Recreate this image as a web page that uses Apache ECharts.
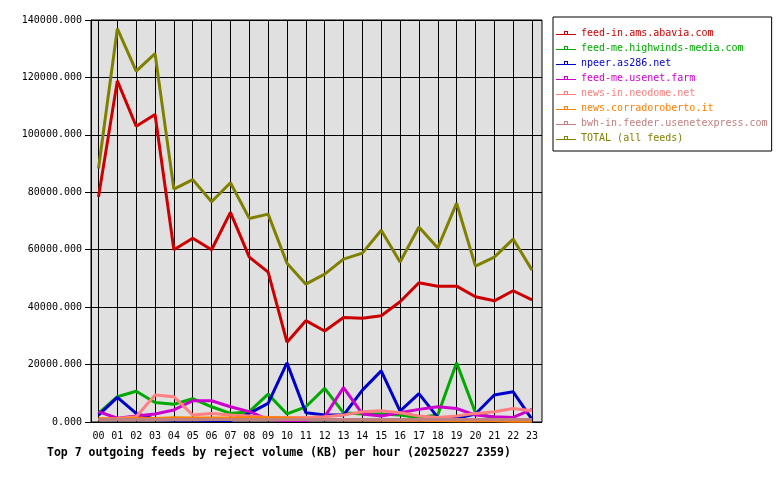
<!DOCTYPE html>
<html>
<head>
<meta charset="utf-8">
<script src="https://cdn.jsdelivr.net/npm/echarts@6/dist/echarts.min.js"></script>
<style>html,body{margin:0;padding:0;background:#fff}#c{width:780px;height:480px}</style>
</head>
<body>
<div id="c"></div>
<script>
const hours = ['00','01','02','03','04','05','06','07','08','09','10','11','12','13','14','15','16','17','18','19','20','21','22','23'];
const seriesNames = ['feed-in.ams.abavia.com','feed-me.highwinds-media.com','npeer.as286.net','feed-me.usenet.farm','news-in.neodome.net','news.corradoroberto.it','bwh-in.feeder.usenetexpress.com','TOTAL (all feeds)'];
const seriesColors = ['#cc0000','#00aa00','#0000cc','#cc00cc','#ff8080','#ff8000','#c08080','#808000'];
const abavia = [78400,118800,103000,107100,60000,64000,60000,73000,57400,52200,27800,35300,31700,36400,36100,37000,41900,48500,47300,47300,43600,42200,45700,42500];
const highwinds = [3000,8800,10700,6800,6200,8100,5300,3000,3600,9700,2800,5300,11700,3200,2800,2800,2400,1600,2400,20600,3200,1300,900,700];
const as286 = [2400,8600,3000,900,700,700,500,500,3000,6500,20600,3200,2400,2400,11100,17800,3800,9900,1600,1300,2800,9400,10500,900];
const usenetfarm = [3600,1300,2100,2800,4200,7400,7400,5300,3600,900,500,500,1800,12000,2800,2100,3200,4400,5300,4700,2400,1800,1600,4400];
const neodome = [900,1200,1800,9400,8800,2400,3000,2400,2100,1600,1600,1600,1800,2400,3600,3900,3200,2100,1600,2100,3000,3600,4700,3900];
const corradoroberto = [1200,1000,1300,1200,1500,1400,1400,1400,1500,1500,1400,1000,1000,800,800,700,600,600,500,400,400,400,300,300];
const usenetexpress = [900,900,900,900,900,900,900,900,900,900,900,900,900,900,900,900,900,900,900,900,900,900,900,900];
const total = [88300,137000,122200,128300,81100,84400,76700,83300,70900,72400,55300,48000,51500,56700,58800,66800,55700,67900,60600,76200,54300,57400,63700,52900];
const yTicks = {min:0, max:140000, interval:20000};
const titleText = 'Top 7 outgoing feeds by reject volume (KB) per hour (20250227 2359)';

const allData = [abavia,highwinds,as286,usenetfarm,neodome,corradoroberto,usenetexpress,total];
const font = 'DejaVu Sans Mono';
const legendIcon = 'path://M0,6L20,6L20,7L0,7Z M8,3L12,3L12,6L11,6L11,4L9,4L9,6L8,6Z';
const chart = echarts.init(document.getElementById('c'), null, {renderer:'canvas'});
chart.setOption({
  animation:false,
  backgroundColor:'#fff',
  title:{text:titleText,left:42,top:442,textStyle:{fontFamily:font,fontWeight:'bold',fontSize:11.5,color:'#000'}},
  legend:{
    orient:'vertical',left:553,top:17,
    padding:[11,4,8,3],itemGap:5,itemWidth:20,itemHeight:7,
    borderColor:'#000',borderWidth:1,backgroundColor:'#fff',
    icon:legendIcon,
    textStyle:{fontFamily:font,fontSize:10,lineHeight:10},
    data:seriesNames.map((n,i)=>({name:n,textStyle:{color:seriesColors[i]}}))
  },
  grid:[
    {left:91,right:238,top:20,bottom:58,show:true,backgroundColor:'#e0e0e0',borderColor:'#000',borderWidth:1},
    {left:98.5,right:248,top:20,bottom:58}
  ],
  xAxis:[
    {gridIndex:0,type:'value',min:0,max:1,show:false},
    {gridIndex:1,type:'category',data:hours,boundaryGap:false,
     axisLine:{show:false},axisTick:{show:false},
     axisLabel:{fontFamily:font,fontSize:10,color:'#000',margin:9,interval:0},
     splitLine:{show:true,lineStyle:{color:'#000',width:1}}}
  ],
  yAxis:[
    {gridIndex:0,type:'value',min:yTicks.min,max:yTicks.max,interval:yTicks.interval,
     axisLine:{show:true,lineStyle:{color:'#000'}},
     axisTick:{show:true,length:6,lineStyle:{color:'#000'}},
     axisLabel:{fontFamily:font,fontSize:10,color:'#000',margin:9,formatter:v=>v.toFixed(3)},
     splitLine:{show:true,lineStyle:{color:'#000',width:1}}},
    {gridIndex:1,type:'value',min:yTicks.min,max:yTicks.max,interval:yTicks.interval,show:false,splitLine:{show:false}}
  ],
  series:seriesNames.map((n,i)=>({
    name:n,type:'line',xAxisIndex:1,yAxisIndex:1,data:allData[i],
    symbol:'none',
    lineStyle:{color:seriesColors[i],width:3},
    itemStyle:{color:seriesColors[i]}
  }))
});
</script>
</body>
</html>
